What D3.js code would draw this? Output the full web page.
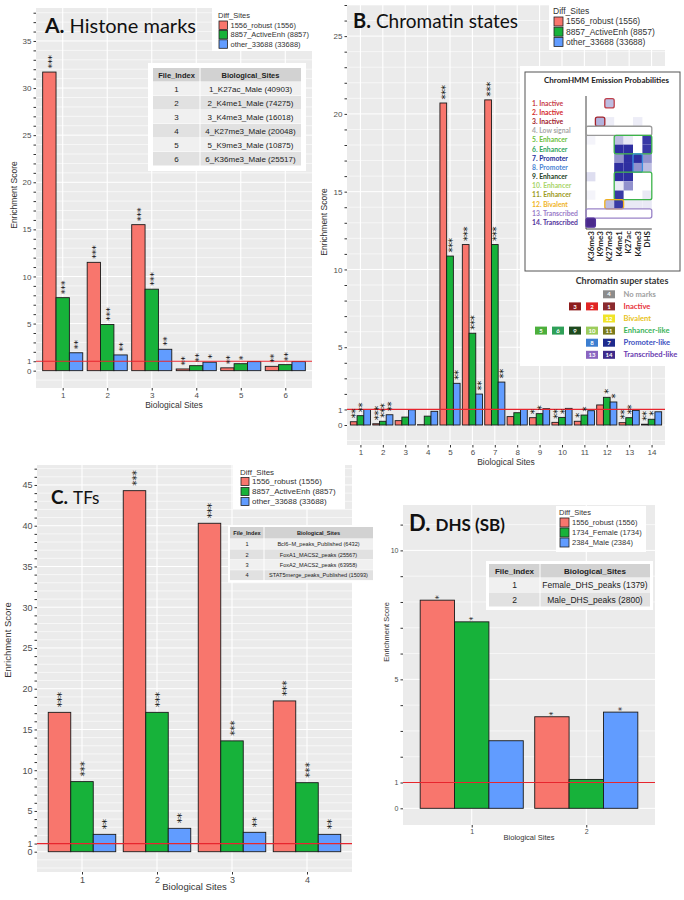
<!DOCTYPE html>
<html>
<head>
<meta charset="utf-8">
<script src="https://cdn.jsdelivr.net/npm/d3@7"></script>
<style>
body { margin: 0; background: #fff; }
svg { display: block; }
text { font-family: "Liberation Sans", Arial, sans-serif; }
.ttl { font-family: Lato, "Open Sans", sans-serif; }
</style>
</head>
<body>
<svg id="fig" width="684" height="900"></svg>
<script>
// ---- data ----
const diffSites = ["robust", "active", "other"]
const barColors = ["#F8766D", "#17B23A", "#619CFF"]

const histoneSites = ["1", "2", "3", "4", "5", "6"]
const histoneRobust = [31.7, 11.5, 15.5, 0.18, 0.3, 0.46]
const histoneActive = [7.75, 4.9, 8.65, 0.53, 0.74, 0.64]
const histoneOther = [1.9, 1.67, 2.27, 0.9, 0.96, 0.96]
const histoneStars = [["***", "***", "**"], ["***", "***", "**"], ["***", "***", "**"],
  ["**", "**", "*"], ["**", "*", ""], ["**", "**", ""]]
const histoneYLabels = [0, 1, 5, 10, 15, 20, 25, 30, 35]
const histoneLegend = ["1556_robust  (1556)", "8857_ActiveEnh (8857)", "other_33688 (33688)"]
const histoneTable = [["1", "1_K27ac_Male (40903)"], ["2", "2_K4me1_Male (74275)"],
  ["3", "3_K4me3_Male (16018)"], ["4", "4_K27me3_Male (20048)"],
  ["5", "5_K9me3_Male (10875)"], ["6", "6_K36me3_Male (25517)"]]

const chromSites = ["1", "2", "3", "4", "5", "6", "7", "8", "9", "10", "11", "12", "13", "14"]
const chromRobust = [0.21, 0.08, 0.28, 0.02, 20.7, 11.6, 20.9, 0.54, 0.47, 0.17, 0.24, 1.29, 0.15, 0.05]
const chromActive = [0.6, 0.24, 0.51, 0.57, 10.86, 5.9, 11.6, 0.79, 0.73, 0.49, 0.64, 1.78, 0.47, 0.37]
const chromOther = [1.0, 0.66, 0.98, 0.88, 2.68, 1.99, 2.76, 1.0, 1.05, 1.07, 0.92, 1.48, 0.94, 0.85]
const chromStars = [["**", "**", ""], ["***", "***", "**"], ["", "", ""], ["", "", ""],
  ["***", "***", "**"], ["***", "***", "**"], ["***", "***", "**"], ["", "", ""],
  ["*", "*", ""], ["**", "*", ""], ["*", "*", ""], ["", "*", "*"], ["**", "**", ""], ["**", "*", ""]]
const chromYLabels = [0, 1, 5, 10, 15, 20, 25]
const chromLegend = ["1556_robust (1556)", "8857_ActiveEnh (8857)", "other_33688 (33688)"]

const tfSites = ["1", "2", "3", "4"]
const tfRobust = [17.1, 44.3, 40.3, 18.5]
const tfActive = [8.6, 17.1, 13.6, 8.47]
const tfOther = [2.13, 2.87, 2.38, 2.13]
const tfStars = [["***", "***", "**"], ["***", "***", "**"], ["***", "***", "**"], ["***", "***", "**"]]
const tfYLabels = [0, 1, 5, 10, 15, 20, 25, 30, 35, 40, 45]
const tfLegend = ["1556_robust (1556)", "8857_ActiveEnh (8857)", "other_33688 (33688)"]
const tfTable = [["1", "Bcl6\u2212M_peaks_Published (6432)"], ["2", "FoxA1_MACS2_peaks (25567)"],
  ["3", "FoxA2_MACS2_peaks (63958)"], ["4", "STAT5merge_peaks_Published (15093)"]]

const dhsSites = ["1", "2"]
const dhsRobust = [8.07, 3.55]
const dhsFemale = [7.23, 1.12]
const dhsMale = [2.62, 3.73]
const dhsStars = [["*", "*", ""], ["*", "", "*"]]
const dhsYLabels = [0, 1, 5, 10]
const dhsLegend = ["1556_robust (1556)", "1734_Female (1734)", "2384_Male (2384)"]
const dhsTable = [["1", "Female_DHS_peaks (1379)"], ["2", "Male_DHS_peaks (2800)"]]

// ChromHMM inset
const stateNames = ["1. Inactive", "2. Inactive", "3. Inactive", "4. Low signal", "5. Enhancer",
  "6. Enhancer", "7. Promoter", "8. Promoter", "9. Enhancer", "10. Enhancer", "11. Enhancer",
  "12. Bivalent", "13. Transcribed", "14. Transcribed"]
const stateColors = ["#c8404a", "#d42a2a", "#a3222a", "#a8a8a8", "#6cbf3c", "#2fa55a", "#24309a",
  "#4a84d4", "#24421e", "#a8d468", "#9c9a1c", "#f0b424", "#9a7cc8", "#54349c"]
const marks = ["K36me3", "K9me3", "K27me3", "K4me1", "K27ac", "K4me3", "DHS"]
const emission = [
  [0, 0, 0.3, 0, 0, 0, 0],
  [0, 0, 0, 0, 0, 0, 0],
  [0, 0.35, 0.08, 0, 0, 0.08, 0],
  [0, 0, 0, 0, 0, 0, 0],
  [0.05, 0, 0, 0.3, 0.1, 0, 0.9],
  [0, 0, 0, 0.95, 0.95, 0, 0.9],
  [0, 0, 0, 0.5, 0.95, 0.95, 0.5],
  [0, 0, 0, 0.95, 0.95, 0.5, 0.3],
  [0.15, 0, 0, 0.95, 0.95, 0, 0],
  [0, 0, 0, 0.1, 0.5, 0, 0],
  [0.05, 0, 0, 0.9, 0, 0, 0.1],
  [0, 0, 0.3, 0.9, 0.1, 0.1, 0.1],
  [0, 0, 0, 0, 0, 0, 0],
  [0, 0, 0, 0, 0, 0, 0]]
// outlines: [firstRow, lastRow, firstCol, lastCol, colour, fill]
const stateBoxes = [
  [0, 0, 2, 2, "#c0404a", "none"], [2, 2, 1, 1, "#a3222a", "none"], [3, 3, 0, 6, "#9a9a9a", "none"],
  [4, 5, 3, 6, "#3cb44a", "none"], [6, 7, 5, 5, "#3a8ee0", "none"], [8, 10, 3, 6, "#3cb44a", "none"],
  [11, 11, 2, 3, "#f0b020", "none"], [12, 12, 0, 6, "#9a84c8", "none"], [13, 13, 0, 0, "#54349c", "#4a2a8c"]]

const superLabels = ["No marks", "Inactive", "Bivalent", "Enhancer-like", "Promoter-like", "Transcribed-like"]
const superColors = ["#a0a0a0", "#e8323c", "#e8c21c", "#3cb45a", "#4050c0", "#6a3cb0"]
const superStates = [["4"], ["3", "2", "1"], ["12"], ["5", "6", "9", "10", "11"], ["8", "7"], ["13", "14"]]
const superStateColors = {"1": "#8a2a2e", "2": "#e02424", "3": "#8e1c1c", "4": "#8c8c8c", "5": "#4caf3c",
  "6": "#2fa058", "7": "#1e2a8c", "8": "#3c7ed0", "9": "#1e4a1e", "10": "#9ccc5c", "11": "#7a7a1c",
  "12": "#f0e428", "13": "#8a64c0", "14": "#3e2a8a"}

const svg = d3.select("#fig")

function drawPanel(o) {
  const g = svg.append("g")
  const x = d3.scalePoint().domain(o.sites).range([o.x0, o.x1]).padding(0.6)
  const y = d3.scaleLinear().domain(o.yDomain).range([o.y1, o.y0])
  const sub = d3.scaleBand().domain(diffSites).range([-0.45 * x.step(), 0.45 * x.step()])
  const ints = d3.range(Math.ceil(o.yDomain[0]), Math.floor(o.yDomain[1]) + 1)

  g.append("rect").attr("x", o.x0).attr("y", o.y0)
    .attr("width", o.x1 - o.x0).attr("height", o.y1 - o.y0).attr("fill", "#EBEBEB")
  g.selectAll(".hg").data(ints).join("line")
    .attr("x1", o.x0).attr("x2", o.x1).attr("y1", d => y(d)).attr("y2", d => y(d))
    .attr("stroke", "#fff").attr("stroke-width", d => o.yLabels.includes(d) ? 1 : 0.6)
  g.selectAll(".vg").data(o.sites).join("line")
    .attr("x1", d => x(d)).attr("x2", d => x(d)).attr("y1", o.y0).attr("y2", o.y1)
    .attr("stroke", "#fff").attr("stroke-width", 1.1)

  const rows = o.sites.flatMap((s, i) => diffSites.map((k, j) =>
    ({site: s, key: k, j: j, v: o.series[j][i], star: o.stars[i][j]})))

  g.selectAll(".bar").data(rows).join("rect")
    .attr("x", d => x(d.site) + sub(d.key))
    .attr("y", d => y(d.v))
    .attr("width", sub.bandwidth())
    .attr("height", d => y(0) - y(d.v))
    .attr("fill", d => barColors[d.j])
    .attr("stroke", "#1a1a1a").attr("stroke-width", 0.9)

  g.append("line").attr("x1", o.x0).attr("x2", o.x1).attr("y1", y(1)).attr("y2", y(1))
    .attr("stroke", "#e8252e").attr("stroke-width", 1.2)

  // significance stars, written sideways like geom_text(angle = 90)
  g.selectAll(".star").data(rows.filter(d => d.star)).join("text")
    .attr("transform", d => `translate(${x(d.site) + sub(d.key) + sub.bandwidth() / 2 + o.starFs * 0.56},${y(d.v) - o.starGap}) rotate(-90)`)
    .style("font-family", "DejaVu Sans")
    .style("font-size", o.starFs + "px")
    .style("letter-spacing", o.starLs + "px")
    .attr("fill", "#111")
    .text(d => d.star)

  const ya = g.append("g").attr("transform", `translate(${o.x0},0)`)
    .call(d3.axisLeft(y).tickValues(ints.filter(v => v >= 0)).tickSize(2.5).tickPadding(2)
      .tickFormat(d => o.yLabels.includes(d) ? d : ""))
  const xa = g.append("g").attr("transform", `translate(0,${o.y1})`)
    .call(d3.axisBottom(x).tickSize(2.5).tickPadding(2))
  for (const a of [ya, xa]) {
    a.select(".domain").remove()
    a.selectAll("line").attr("stroke", "#333")
    a.selectAll("text").attr("fill", "#4d4d4d").style("font-size", o.fs + "px")
      .style("font-family", "Liberation Sans")
  }
  g.append("text").attr("x", (o.x0 + o.x1) / 2).attr("y", o.xTitleY)
    .attr("text-anchor", "middle").attr("fill", "#333").style("font-size", o.titleFs + "px")
    .text("Biological Sites")
  g.append("text").attr("transform", `translate(${o.yTitleX},${o.yTitleCY}) rotate(-90)`)
    .attr("text-anchor", "middle").attr("fill", "#333").style("font-size", o.titleFs + "px")
    .text("Enrichment Score")
  return g
}

function drawLegend(o) {
  const g = svg.append("g")
  g.append("rect").attr("x", o.bx).attr("y", o.by).attr("width", o.bw).attr("height", o.bh).attr("fill", "#fff")
  g.append("text").attr("x", o.x).attr("y", o.y).attr("fill", "#333")
    .style("font-size", o.fs + "px").text("Diff_Sites")
  g.selectAll(".key").data(o.labels).join("rect")
    .attr("x", o.x + 1).attr("y", (d, i) => o.y + 3 + i * o.step)
    .attr("width", o.key).attr("height", o.key)
    .attr("fill", (d, i) => barColors[i]).attr("stroke", "#222").attr("stroke-width", 0.8)
  g.selectAll(".lab").data(o.labels).join("text")
    .attr("x", o.x + o.key + 4).attr("y", (d, i) => o.y + 3 + i * o.step + o.key / 2)
    .attr("dy", "0.35em").attr("fill", "#333")
    .style("font-size", o.fs + "px").text(d => d)
}

function drawTable(o) {
  const g = svg.append("g")
  const w = o.colW[0] + o.colW[1]
  g.append("rect").attr("x", o.x - o.pad).attr("y", o.y - o.pad)
    .attr("width", w + 2 * o.pad).attr("height", o.headH + o.rows.length * o.rowH + 2 * o.pad)
    .attr("fill", "#fff")
  const cx = [o.x + o.colW[0] / 2, o.x + o.colW[0] + o.colW[1] / 2]
  const cells = [{r: -1, vals: ["File_Index", "Biological_Sites"]}]
    .concat(o.rows.map((v, r) => ({r: r, vals: v})))
  const rowY = r => r < 0 ? o.y : o.y + o.headH + r * o.rowH
  const rowH = r => r < 0 ? o.headH : o.rowH
  cells.forEach(c => {
    const fill = c.r < 0 ? "#d2d2d2" : (c.r % 2 === 0 ? "#f0f0f0" : "#e1e1e1")
    g.append("rect").attr("x", o.x).attr("y", rowY(c.r)).attr("width", o.colW[0] - 0.5)
      .attr("height", rowH(c.r) - 0.5).attr("fill", fill)
    g.append("rect").attr("x", o.x + o.colW[0] + 0.5).attr("y", rowY(c.r)).attr("width", o.colW[1] - 0.5)
      .attr("height", rowH(c.r) - 0.5).attr("fill", fill)
    c.vals.forEach((v, k) => {
      g.append("text").attr("x", cx[k]).attr("y", rowY(c.r) + rowH(c.r) / 2)
        .attr("dy", "0.35em").attr("text-anchor", "middle").attr("fill", "#222")
        .style("font-size", (c.r < 0 ? o.headFs : o.fs) + "px")
        .style("font-weight", c.r < 0 ? "bold" : "normal")
        .text(v)
    })
  })
}

function drawTitle(x, y, letter, label, fs1, fs2, bold2) {
  const t = svg.append("text").attr("class", "ttl").attr("x", x).attr("y", y).attr("fill", "#111")
  t.append("tspan").style("font-weight", "bold").style("font-size", fs1 + "px")
    .style("font-family", "Lato").text(letter)
  t.append("tspan").attr("dx", 5).style("font-size", fs2 + "px").style("font-family", "Lato")
    .style("font-weight", bold2 ? "bold" : "normal").text(label)
}

// ---- panel A ----
drawPanel({x0: 36, x1: 312, y0: 8, y1: 388, yDomain: [-1.84, 38.5], sites: histoneSites,
  series: [histoneRobust, histoneActive, histoneOther], stars: histoneStars, yLabels: histoneYLabels,
  fs: 8, titleFs: 8.5, xTitleY: 408, yTitleX: 17, yTitleCY: 195, starFs: 9.5, starLs: -0.3, starGap: 3.5})
drawTitle(45, 33, "A.", "Histone marks", 21, 20, false)
drawLegend({bx: 212, by: 8, bw: 106, bh: 43, x: 218, y: 18, fs: 7.5, key: 8.5, step: 9.4, labels: histoneLegend})
drawTable({x: 153, y: 68, colW: [47, 101], headH: 14, rowH: 14, pad: 5, fs: 8, headFs: 7.5, rows: histoneTable})

// ---- panel B ----
drawPanel({x0: 347, x1: 665, y0: 5, y1: 445, yDomain: [-1.285, 27.0], sites: chromSites,
  series: [chromRobust, chromActive, chromOther], stars: chromStars, yLabels: chromYLabels,
  fs: 8, titleFs: 8.5, xTitleY: 465, yTitleX: 327, yTitleCY: 222, starFs: 10, starLs: -0.2, starGap: 3.5})
drawTitle(353, 28, "B.", "Chromatin states", 20, 19, false)
drawLegend({bx: 549, by: 3, bw: 135, bh: 47, x: 553, y: 14, fs: 8.5, key: 9, step: 10.2, labels: chromLegend})

// ChromHMM emission inset
const hx0 = 586, hy0 = 98.7, cw = 9.4, ch = 9.18
svg.append("rect").attr("x", 520).attr("y", 66).attr("width", 164).attr("height", 300).attr("fill", "#fff")
svg.append("rect").attr("x", 525).attr("y", 72).attr("width", 155).attr("height", 199)
  .attr("fill", "#fff").attr("stroke", "#555").attr("stroke-width", 1)
svg.append("text").attr("x", 606.5).attr("y", 83).attr("text-anchor", "middle")
  .style("font-family", "Lato").style("font-weight", "bold").style("font-size", "8px")
  .attr("fill", "#222").text("ChromHMM Emission Probabilities")
const heat = d3.scaleLinear().domain([0, 1]).range(["#ffffff", "#23239b"])
const heatCells = emission.flatMap((row, r) => row.map((v, c) => ({r: r, c: c, v: v}))).filter(d => d.v > 0)
svg.selectAll(".cell").data(heatCells).join("rect")
  .attr("x", d => hx0 + d.c * cw).attr("y", d => hy0 + d.r * ch)
  .attr("width", cw).attr("height", ch).attr("fill", d => heat(d.v))
svg.selectAll(".state").data(stateNames).join("text")
  .attr("x", 532).attr("y", (d, i) => hy0 + (i + 0.5) * ch).attr("dy", "0.35em")
  .style("font-family", "Lato").style("font-weight", "bold").style("font-size", "6.8px")
  .attr("fill", (d, i) => stateColors[i]).text(d => d)
svg.append("line").attr("x1", hx0).attr("x2", hx0).attr("y1", 96).attr("y2", 229).attr("stroke", "#444").attr("stroke-width", 1)
svg.append("line").attr("x1", hx0).attr("x2", hx0 + 7 * cw).attr("y1", 229).attr("y2", 229).attr("stroke", "#444").attr("stroke-width", 1)
svg.selectAll(".sbox").data(stateBoxes).join("rect")
  .attr("x", d => hx0 + d[2] * cw).attr("y", d => hy0 + d[0] * ch)
  .attr("width", d => (d[3] - d[2] + 1) * cw).attr("height", d => (d[1] - d[0] + 1) * ch)
  .attr("rx", 2).attr("fill", d => d[5]).attr("stroke", d => d[4]).attr("stroke-width", 1.3)
svg.selectAll(".mark").data(marks).join("text")
  .attr("transform", (d, i) => `translate(${hx0 + (i + 0.5) * cw},231) rotate(-90)`)
  .attr("text-anchor", "end").attr("dy", "0.35em")
  .style("font-family", "Lato").style("font-weight", "bold").style("font-size", "8px")
  .attr("fill", "#222").text(d => d)

// chromatin super states legend
svg.append("text").attr("x", 622).attr("y", 284).attr("text-anchor", "middle")
  .style("font-family", "Lato").style("font-weight", "bold").style("font-size", "9px")
  .attr("fill", "#333").text("Chromatin super states")
superLabels.forEach((lab, i) => {
  const cy = 294.3 + i * 12.1
  svg.append("text").attr("x", 623.5).attr("y", cy).attr("dy", "0.35em")
    .style("font-family", "Lato").style("font-weight", "bold").style("font-size", "7.6px")
    .attr("fill", superColors[i]).text(lab)
  const st = superStates[i]
  st.forEach((s, k) => {
    const bx = 603 - (st.length - 1 - k) * 17
    svg.append("rect").attr("x", bx).attr("y", cy - 4).attr("width", 12).attr("height", 8)
      .attr("fill", superStateColors[s])
    svg.append("text").attr("x", bx + 6).attr("y", cy).attr("dy", "0.35em").attr("text-anchor", "middle")
      .style("font-family", "Lato").style("font-weight", "bold").style("font-size", "6px")
      .attr("fill", "#fff").text(s)
  })
})

// ---- panel C ----
drawPanel({x0: 37, x1: 352, y0: 465, y1: 872, yDomain: [-2.49, 47.45], sites: tfSites,
  series: [tfRobust, tfActive, tfOther], stars: tfStars, yLabels: tfYLabels,
  fs: 9, titleFs: 9.5, xTitleY: 890, yTitleX: 11, yTitleCY: 640, starFs: 10.5, starLs: -0.2, starGap: 5})
drawTitle(51, 504, "C.", "TFs", 19, 17, false)
drawLegend({bx: 233, by: 465, bw: 112, bh: 44, x: 240, y: 474.5, fs: 8, key: 8, step: 10, labels: tfLegend})
drawTable({x: 230, y: 527, colW: [34, 109], headH: 12, rowH: 10.4, pad: 2, fs: 5.6, headFs: 5.6, rows: tfTable})

// ---- panel D ----
drawPanel({x0: 403, x1: 655, y0: 505, y1: 825, yDomain: [-0.647, 11.76], sites: dhsSites,
  series: [dhsRobust, dhsFemale, dhsMale], stars: dhsStars, yLabels: dhsYLabels,
  fs: 7, titleFs: 7.5, xTitleY: 840, yTitleX: 389, yTitleCY: 632, starFs: 8, starLs: 0, starGap: 1})
drawTitle(409, 531, "D.", "DHS (SB)", 22, 17, true)
drawLegend({bx: 556, by: 506, bw: 90, bh: 46, x: 559, y: 515, fs: 7.5, key: 9, step: 10, labels: dhsLegend})
drawTable({x: 489, y: 564, colW: [51, 110], headH: 14, rowH: 14.5, pad: 3, fs: 8.5, headFs: 8, rows: dhsTable})
</script>
</body>
</html>
